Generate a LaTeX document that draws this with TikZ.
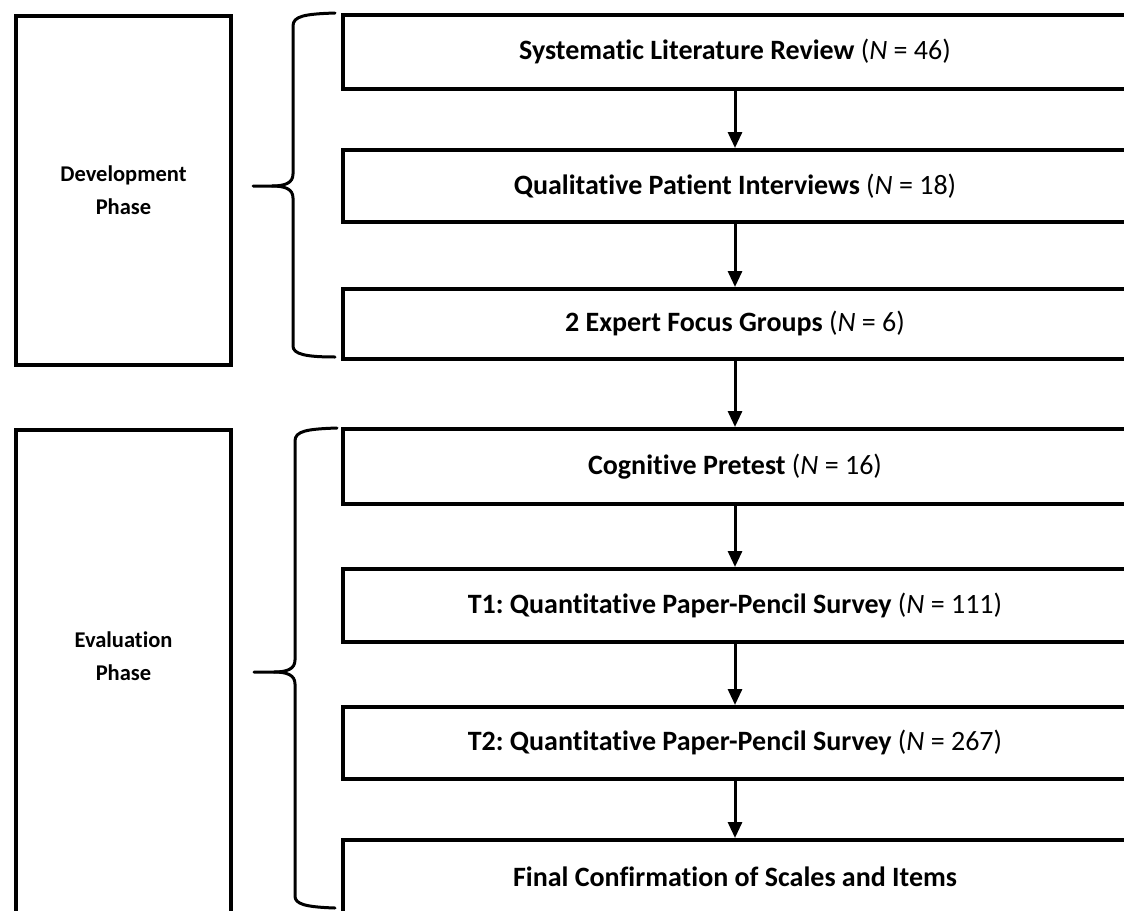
\documentclass[tikz,border=0pt]{standalone}
\usepackage{fontspec}
\setmainfont{Carlito}[Ligatures=NoCommon]
\usetikzlibrary{arrows.meta}
\frenchspacing
\begin{document}
\begin{tikzpicture}[x=1pt,y=-1pt,
  stepbox/.style={draw,line width=3.5pt,minimum width=784pt,minimum height=72pt,inner sep=0pt,font=\fontsize{28}{33}\selectfont,anchor=north},
  phasebox/.style={draw,line width=3.5pt,inner sep=0pt},
  phasetext/.style={font=\fontsize{22.5}{33}\selectfont\bfseries,align=center},
  flow/.style={line width=3pt,-{Triangle[width=14pt,length=16pt]}},
  bracepath/.style={line width=3pt,line cap=round,line join=round}]
\useasboundingbox (0,0) rectangle (1124,910);
\clip (0,0) rectangle (1124,910);
% right column boxes
\node[stepbox,minimum height=74pt] (b1) at (735,13) {\textbf{Systematic Literature Review} (\textit{N} = 46)};
\node[stepbox] (b2) at (735,148) {\textbf{Qualitative Patient Interviews} (\textit{N} = 18)};
\node[stepbox,minimum height=70pt] (b3) at (735,287) {\textbf{2 Expert Focus Groups} (\textit{N} = 6)};
\node[stepbox,minimum height=75pt] (b4) at (735,427) {\textbf{Cognitive Pretest} (\textit{N} = 16)};
\node[stepbox,minimum height=73pt] (b5) at (735,567) {\textbf{T1: Quantitative Paper-Pencil Survey} (\textit{N} = 111)};
\node[stepbox] (b6) at (735,705) {\textbf{T2: Quantitative Paper-Pencil Survey} (\textit{N} = 267)};
\node[stepbox,minimum height=74pt] (b7) at (735,838) {\textbf{Final Confirmation of Scales and Items}};
% arrows
\draw[flow] (b1.south) -- (b2.north);
\draw[flow] (b2.south) -- (b3.north);
\draw[flow] (b3.south) -- (b4.north);
\draw[flow] (b4.south) -- (b5.north);
\draw[flow] (b5.south) -- (b6.north);
\draw[flow] (b6.south) -- (b7.north);
% left phase boxes
\node[phasebox,phasetext,minimum width=215pt,minimum height=349pt] (dev) at (123.5,190.5) {Development\\Phase};
\node[phasebox,minimum width=215pt,minimum height=560pt,anchor=north] (eva) at (123.5,428) {};
\node[phasetext] (evatext) at (123.5,656) {Evaluation\\Phase};
% braces
\draw[bracepath] (335,13) .. controls (305,14) and (293,16) .. (293,26)
  -- (293,174) .. controls (293,183) and (285,186) .. (272,186) -- (253,186);
\draw[bracepath] (272,186) .. controls (285,186) and (293,189) .. (293,198)
  -- (293,346) .. controls (293,354) and (305,357) .. (335,357);
\draw[bracepath] (337,428) .. controls (307,429) and (295,431) .. (295,441)
  -- (295,660) .. controls (295,669) and (287,672) .. (274,672) -- (254,672);
\draw[bracepath] (274,672) .. controls (287,672) and (295,675) .. (295,684)
  -- (295,896) .. controls (295,904) and (305,907) .. (335,908);
\end{tikzpicture}
\end{document}
